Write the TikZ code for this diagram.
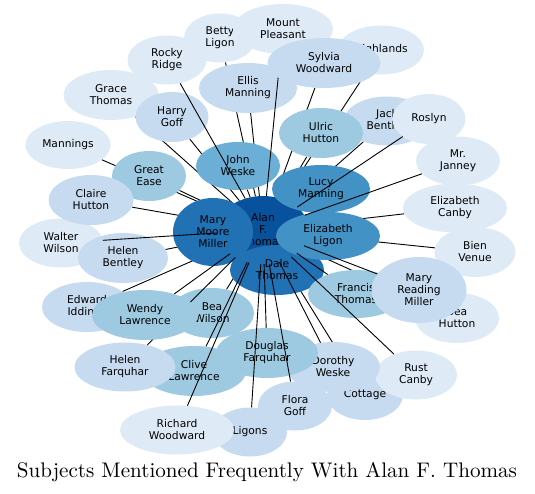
\documentclass[tikz,border=0pt]{standalone}
\usepackage{fontspec}
\newfontfamily\djv{DejaVu Sans}
\usetikzlibrary{shapes.geometric}
\definecolor{ca}{HTML}{DEEBF7}
\definecolor{cb}{HTML}{C6DBEF}
\definecolor{cc}{HTML}{9ECAE1}
\definecolor{cd}{HTML}{6BAED6}
\definecolor{ce}{HTML}{4292C6}
\definecolor{cf}{HTML}{2171B5}
\definecolor{cg}{HTML}{08519C}
\newcommand\FillNd[5]{\node[nd, fill=#2, sz={#3}{#4}] at (#1.center) {#5};}
\begin{document}
\begin{tikzpicture}[x=1pt,y=-1pt,
  nd/.style={ellipse, inner sep=0pt, align=center, font=\djv\fontsize{10.7}{12}\selectfont},
  sz/.style 2 args={minimum width=#1pt, minimum height=#2pt},
  ed/.style={line width=0.9pt, black}]
\useasboundingbox (0,0) rectangle (535,493);

% ---------- named shapes (invisible), used as ends of the connectors
\path
 node[nd, sz={92}{68}] (alan) at (263,230) {}
 node[nd, sz={95}{50}] (grace) at (111,95) {}
 node[nd, sz={85}{48}] (mannings) at (68,145) {}
 node[nd, sz={79}{49}] (rocky) at (167,60) {}
 node[nd, sz={72}{49}] (betty) at (220,38) {}
 node[nd, sz={100}{50}] (mountp) at (283,29) {}
 node[nd, sz={86}{49}] (highlands) at (381,50) {}
 node[nd, sz={98}{50}] (ellis) at (248,88) {}
 node[nd, sz={86}{49}] (jack) at (387,121) {}
 node[nd, sz={73}{50}] (roslyn) at (429,119) {}
 node[nd, sz={84}{49}] (janney) at (458,161) {}
 node[nd, sz={104}{49}] (ecanby) at (455,208) {}
 node[nd, sz={81}{50}] (bien) at (475,252) {}
 node[nd, sz={84}{50}] (beahutton) at (457,318) {}
 node[nd, sz={76}{50}] (cottage) at (365,395) {}
 node[nd, sz={82}{49}] (rust) at (416,375) {}
 node[nd, sz={74}{49}] (ligons) at (250,432) {}
 node[nd, sz={114}{49}] (richard) at (177,430) {}
 node[nd, sz={84}{49}] (walter) at (61,243) {}
 node[nd, sz={74}{50}] (great) at (149,176) {}
 node[nd, sz={85}{50}] (claire) at (91,200) {}
 node[nd, sz={90}{50}] (edward) at (87,307) {}
 node[nd, sz={90}{50}] (hbentley) at (123,258) {}
 node[nd, sz={73}{50}] (harry) at (172,117) {}
 node[nd, sz={84}{48}] (john) at (238,166) {}
 node[nd, sz={104}{50}] (clive) at (194,371) {}
 node[nd, sz={101}{49}] (hfarq) at (125,367) {}
 node[nd, sz={84}{50}] (beawilson) at (212,313) {}
 node[nd, sz={94}{50}] (dorothy) at (333,367) {}
 node[nd, sz={74}{49}] (flora) at (295,406) {}
 node[nd, sz={102}{50}] (douglas) at (267,353) {}
 node[nd, sz={113}{50}] (sylvia) at (324,63) {}
 node[nd, sz={84}{50}] (ulric) at (321,133) {}
 node[nd, sz={98}{48}] (lucy) at (321,189) {}
 node[nd, sz={94}{50}] (dale) at (277,270) {}
 node[nd, sz={104}{48}] (eligon) at (328,236) {}
 node[nd, sz={80}{68}] (mmm) at (213,232) {}
 node[nd, sz={96}{48}] (francis) at (356,294) {}
 node[nd, sz={95}{66}] (mrm) at (419,290) {}
 node[nd, sz={106}{50}] (wendy) at (145,315) {};

% ---------- centre
\FillNd{alan}{cg}{92}{68}{Alan\\F.\\Thomas}

% ---------- connectors lying under the nodes
\foreach \t in {mannings,great,claire,hbentley,edward,harry,betty,ellis,john,
  sylvia,highlands,bien,ecanby,beahutton,cottage,jack,ulric,lucy,eligon,dale,mmm,beawilson,grace}
  \draw[ed] (alan) -- (\t);

% ---------- outer nodes
\FillNd{grace}{ca}{95}{50}{Grace\\Thomas}
\FillNd{mannings}{ca}{85}{48}{Mannings}
\FillNd{rocky}{ca}{79}{49}{Rocky\\Ridge}
\FillNd{betty}{ca}{72}{49}{Betty\\Ligon}
\FillNd{mountp}{ca}{100}{50}{Mount\\Pleasant}
\FillNd{highlands}{ca}{86}{49}{Highlands}
\FillNd{ellis}{cb}{98}{50}{Ellis\\Manning}
\FillNd{jack}{cb}{86}{49}{Jack\\Bentley}
\FillNd{roslyn}{ca}{73}{50}{Roslyn}
\FillNd{janney}{ca}{84}{49}{Mr.\\Janney}
\FillNd{ecanby}{ca}{104}{49}{Elizabeth\\Canby}
\FillNd{bien}{ca}{81}{50}{Bien\\Venue}
\FillNd{beahutton}{ca}{84}{50}{Bea\\Hutton}
\FillNd{cottage}{cb}{76}{50}{Cottage}
\FillNd{rust}{ca}{82}{49}{Rust\\Canby}
\FillNd{ligons}{cb}{74}{49}{Ligons}
\FillNd{richard}{ca}{114}{49}{Richard\\Woodward}
\FillNd{walter}{ca}{84}{49}{Walter\\Wilson}
\FillNd{great}{cc}{74}{50}{Great\\Ease}
\FillNd{claire}{cb}{85}{50}{Claire\\Hutton}
\FillNd{edward}{cb}{90}{50}{Edward\\Iddings}
\FillNd{hbentley}{cb}{90}{50}{Helen\\Bentley}
\FillNd{harry}{cb}{73}{50}{Harry\\Goff}
\FillNd{john}{cd}{84}{48}{John\\Weske}
\FillNd{clive}{cc}{104}{50}{Clive\\Lawrence}
\FillNd{hfarq}{cb}{101}{49}{Helen\\Farquhar}
\FillNd{beawilson}{cc}{84}{50}{Bea\\Wilson}
\FillNd{dorothy}{cb}{94}{50}{Dorothy\\Weske}
\FillNd{flora}{cb}{74}{49}{Flora\\Goff}
\FillNd{douglas}{cc}{102}{50}{Douglas\\Farquhar}

\draw[ed] (alan) -- (mountp);

% ---------- inner nodes
\FillNd{sylvia}{cb}{113}{50}{Sylvia\\Woodward}
\FillNd{ulric}{cc}{84}{50}{Ulric\\Hutton}
\FillNd{lucy}{ce}{98}{48}{Lucy\\Manning}
\FillNd{dale}{cf}{94}{50}{Dale\\Thomas}
\FillNd{eligon}{ce}{104}{48}{Elizabeth\\Ligon}
\FillNd{mmm}{cf}{80}{68}{Mary\\Moore\\Miller}
\FillNd{francis}{cc}{96}{48}{Francis\\Thomas}
\FillNd{mrm}{cb}{95}{66}{Mary\\Reading\\Miller}

% ---------- connectors lying over the nodes
\foreach \t in {rocky,walter,hfarq,clive,richard,ligons,douglas,flora,dorothy,
  rust,francis,mrm,janney,roslyn,wendy}
  \draw[ed] (alan) -- (\t);

\FillNd{wendy}{cc}{106}{50}{Wendy\\Lawrence}

% ---------- title
\node[anchor=base, inner sep=0pt] (title) at (267,477)
  {\resizebox{500pt}{!}{Subjects Mentioned Frequently With Alan F. Thomas}};
\end{tikzpicture}
\end{document}
